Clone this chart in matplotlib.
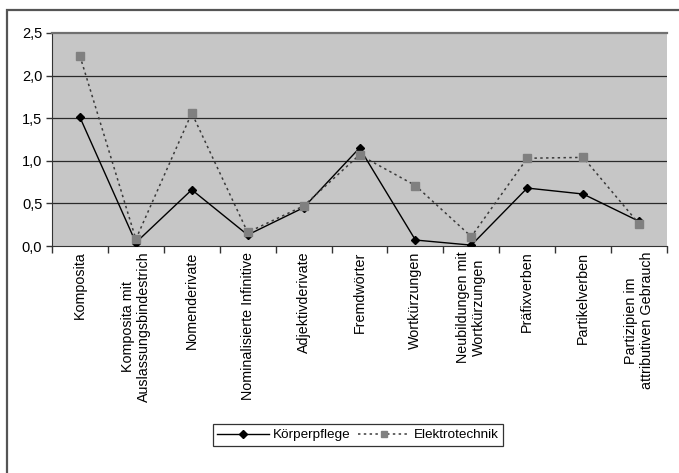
import matplotlib
matplotlib.use("Agg")
import matplotlib.pyplot as plt
from matplotlib.patches import Rectangle

plt.rcParams['font.family'] = ['Liberation Sans', 'DejaVu Sans']

categories = [
    "Komposita",
    "Komposita mit\nAuslassungsbindestrich",
    "Nomenderivate",
    "Nominalisierte Infinitive",
    "Adjektivderivate",
    "Fremdwörter",
    "Wortkürzungen",
    "Neubildungen mit\nWortkürzungen",
    "Präfixverben",
    "Partikelverben",
    "Partizipien im\nattributiven Gebrauch",
]
koerperpflege = [1.51, 0.04, 0.66, 0.13, 0.45, 1.15, 0.07, 0.01, 0.68, 0.61, 0.29]
elektrotechnik = [2.23, 0.08, 1.56, 0.16, 0.47, 1.07, 0.71, 0.11, 1.03, 1.04, 0.26]
y_ticks = [0.0, 0.5, 1.0, 1.5, 2.0, 2.5]
y_tick_labels = ["0,0", "0,5", "1,0", "1,5", "2,0", "2,5"]

W, H = 679, 473
fig = plt.figure(figsize=(W / 100, H / 100), dpi=100)

# outer chart frame (only top and left edge fall inside the image)
fig.patches.append(Rectangle((7 / W, -0.1), 1.2, 1 - 10 / H + 0.1,
                             transform=fig.transFigure, fill=False,
                             edgecolor='#555555', linewidth=1.6))

left, right, top, bottom = 52, 667, 33, 246
ax = fig.add_axes([left / W, 1 - bottom / H, (right - left) / W, (bottom - top) / H])
ax.set_facecolor('#c6c6c6')

n = len(categories)
x = list(range(n))
ax.set_xlim(-0.5, n - 0.5)
ax.set_ylim(0, 2.5)

for y in y_ticks[1:-1]:
    ax.axhline(y, color='#2a2a2a', linewidth=0.9, zorder=1)

ax.plot(x, koerperpflege, color='black', linewidth=1.0, marker='D',
        markersize=4.5, markerfacecolor='black', markeredgecolor='black',
        label='Körperpflege', zorder=3)
ax.plot(x, elektrotechnik, color='#3a3a3a', linewidth=1.1, linestyle=(0, (1.6, 2.2)),
        marker='s', markersize=6, markerfacecolor='#808080', markeredgecolor='#808080',
        label='Elektrotechnik', zorder=4)

ax.set_yticks(y_ticks)
ax.set_yticklabels(y_tick_labels, fontsize=10.5)
ax.tick_params(axis='y', direction='out', length=4, width=1, color='#333333', pad=3)

ax.set_xticks([i - 0.5 for i in range(n + 1)])
ax.set_xticklabels([])
ax.set_xticks(x, minor=True)
ax.set_xticklabels(categories, minor=True, rotation=90, fontsize=10.3,
                   ha='center', va='top', multialignment='center')
ax.tick_params(axis='x', which='major', direction='out', length=5, width=1, color='#333333')
ax.tick_params(axis='x', which='minor', length=0, pad=4)

ax.spines['right'].set_visible(False)
ax.spines['top'].set_color('#707070')
ax.spines['top'].set_linewidth(1.6)
ax.spines['left'].set_color('#333333')
ax.spines['bottom'].set_color('#333333')

leg = fig.legend(loc='center', bbox_to_anchor=(358 / W, 1 - 435 / H), ncol=2,
                 fontsize=9.7, frameon=True, fancybox=False, edgecolor='black',
                 handlelength=3.8, columnspacing=0.6, handletextpad=0.3,
                 borderpad=0.35, borderaxespad=0, markerscale=0.8)
leg.get_frame().set_linewidth(0.9)

fig.savefig('out.png', dpi=100)
